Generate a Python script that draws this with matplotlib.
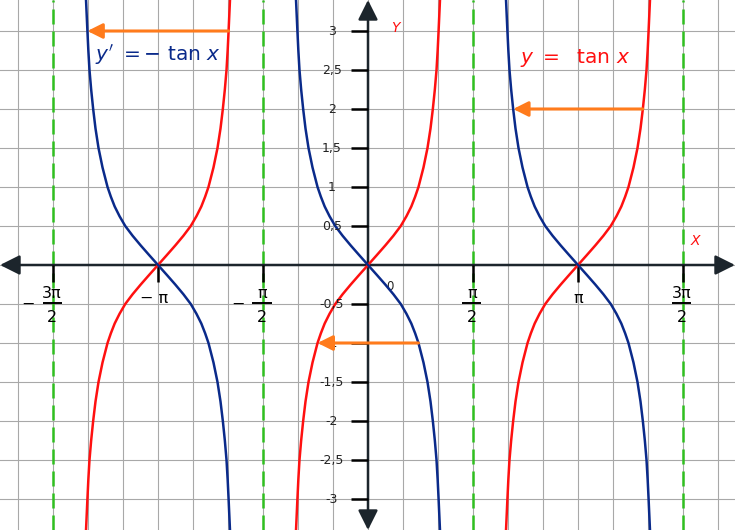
import matplotlib.pyplot as plt
import numpy as np

plt.rcParams['mathtext.fontset'] = 'dejavusans'

# one branch of the curve (x offset from branch centre in rad, y)
branch_dx = [0, 0.13, 0.258, 0.38, 0.49, 0.575, 0.648, 0.705, 0.755, 0.830, 0.890,
             0.935, 0.970, 1.000, 1.025, 1.042, 1.056, 1.077]
branch_y = [0, 0.125, 0.25, 0.375, 0.5, 0.625, 0.75, 0.875, 1.0, 1.25, 1.5,
            1.75, 2.0, 2.25, 2.5, 2.75, 3.0, 3.4]
branch_centres = [-np.pi, 0, np.pi]

asymptotes = [-3 * np.pi / 2, -np.pi / 2, np.pi / 2, 3 * np.pi / 2]
y_ticks = [-3, -2.5, -2, -1.5, -1, -0.5, 0.5, 1, 1.5, 2, 2.5, 3]
x_ticks = [-3 * np.pi / 2, -np.pi, -np.pi / 2, np.pi / 2, np.pi, 3 * np.pi / 2]
x_num = ['3π', None, 'π', 'π', None, '3π']
x_neg = [True, True, True, False, False, False]

# orange arrows: (branch centre, y level, which curve the arrow starts on)
arrows = [(-np.pi, 3.0, 'red'), (np.pi, 2.0, 'red'), (0, -1.0, 'blue')]

RED = '#ff1010'
BLUE = '#0a2a8a'
ORANGE = '#ff7b1c'
GREEN = '#2fbf1f'
AXC = '#1c252c'

px_x = 210 / np.pi   # pixels per rad
px_y = 78.0          # pixels per unit

fig = plt.figure(figsize=(7.35, 5.30), dpi=100)
ax = fig.add_axes([0, 0, 1, 1])
xmin, xmax = -368 / px_x, 367 / px_x
ymin, ymax = -265 / px_y, 265 / px_y
ax.set_xlim(xmin, xmax)
ax.set_ylim(ymin, ymax)
for s in ax.spines.values():
    s.set_visible(False)

# grid
ax.set_xticks(np.arange(-10, 11) * np.pi / 6)
ax.set_yticks(np.arange(-6, 7) * 0.5)
ax.tick_params(length=0, labelbottom=False, labelleft=False)
ax.grid(True, color='#a8a8a8', lw=0.8)

# asymptotes
for a in asymptotes:
    ax.axvline(a, color=GREEN, lw=1.8, dashes=(6, 2.8), zorder=2)

bx = np.array(branch_dx)
by = np.array(branch_y)
full_dx = np.concatenate([-bx[::-1], bx[1:]])
full_y = np.concatenate([-by[::-1], by[1:]])

for c in branch_centres:
    ax.plot(c + full_dx, full_y, color=RED, lw=1.8, zorder=4, solid_joinstyle='round')
    ax.plot(c - full_dx, full_y, color=BLUE, lw=1.8, zorder=4, solid_joinstyle='round')

# axes with arrow heads
ax.annotate('', xy=(xmax, 0), xytext=(xmin, 0), annotation_clip=False,
            arrowprops=dict(arrowstyle='<|-|>,head_length=1.2,head_width=0.6',
                            color=AXC, lw=1.8, shrinkA=0, shrinkB=0), zorder=3)
ax.annotate('', xy=(0, ymax), xytext=(0, ymin), annotation_clip=False,
            arrowprops=dict(arrowstyle='<|-|>,head_length=1.2,head_width=0.6',
                            color=AXC, lw=1.8, shrinkA=0, shrinkB=0), zorder=3)

# y ticks and labels
ax.hlines(y_ticks, -17 / px_x, 0, color='black', lw=1.8, zorder=3)
for v in y_ticks:
    ax.text(-36 / px_x, v - 4.2 / px_y, f'{v:g}'.replace('.', ','), ha='center',
            va='baseline', fontsize=9, color='#222222', zorder=5)

# x ticks and labels
ax.vlines(x_ticks, -17 / px_y, 0, color='black', lw=1.8, zorder=3)
for xt, num, neg in zip(x_ticks, x_num, x_neg):
    if num is None:
        lab = '− π' if neg else 'π'
        off = -4 if neg else 0
        ax.text(xt + off / px_x, -37.7 / px_y, lab, ha='center', va='baseline',
                fontsize=11.5, color='black', zorder=5)
        continue
    ax.text(xt - 1 / px_x, -33.3 / px_y, num, ha='center', va='baseline',
            fontsize=11.5, color='black', zorder=5)
    ax.plot([xt - 10.5 / px_x, xt + 8.5 / px_x], [-37.5 / px_y] * 2, color='black',
            lw=1.4, zorder=5, solid_capstyle='butt')
    ax.text(xt - 1 / px_x, -56.7 / px_y, '2', ha='center', va='baseline',
            fontsize=11.5, color='black', zorder=5)
    if neg:
        ax.text(xt - 25 / px_x, -39 / px_y, '−', ha='center', va='center',
                fontsize=11.5, color='black', zorder=5)

ax.text(22 / px_x, -25 / px_y, '0', ha='center', va='baseline', fontsize=8.5, color='#222222')
ax.text(27 / px_x, 233.3 / px_y, 'Y', ha='center', va='baseline', fontsize=10,
        style='italic', color=RED)
ax.text(327 / px_x, 20 / px_y, 'X', ha='center', va='baseline', fontsize=10,
        style='italic', color=RED)

# orange arrows between the two curves
for c, yl, start in arrows:
    d = bx[list(by).index(abs(yl))]
    x_red = c + np.sign(yl) * d
    x_blue = c - np.sign(yl) * d
    x0, x1 = (x_red, x_blue) if start == 'red' else (x_blue, x_red)
    ax.annotate('', xy=(x1, yl), xytext=(x0, yl),
                arrowprops=dict(arrowstyle='-|>,head_length=0.9,head_width=0.45',
                                color=ORANGE, lw=2.2, shrinkA=0, shrinkB=0), zorder=6)

ax.text(-4.084, 2.615, r"$y^{\prime}\ {=}{-}\ \mathrm{tan}\ x$", color=BLUE,
        fontsize=14.5, ha='left', va='baseline', zorder=7)
ax.text(2.274, 2.596, r"$y\ {=}\ \ \mathrm{tan}\ x$", color=RED,
        fontsize=14.5, ha='left', va='baseline', zorder=7)

fig.savefig('out.png', dpi=100)
